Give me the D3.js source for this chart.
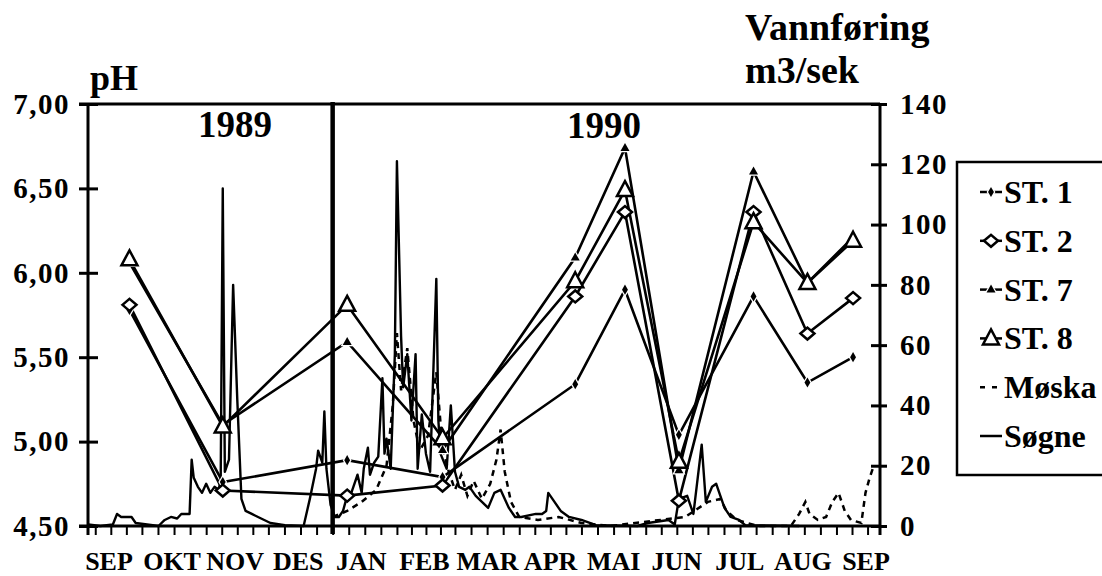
<!DOCTYPE html>
<html>
<head>
<meta charset="utf-8">
<script src="https://cdn.jsdelivr.net/npm/d3@7"></script>
<style>
  body { margin: 0; background: #fff; }
  text { font-family: "Liberation Serif", "Times New Roman", serif; font-weight: bold; fill: #000; }
</style>
</head>
<body>
<div id="chart"></div>
<script>
// pH sampling dates and station values
var sampleDates = ["1989-09-25","1989-11-09","1990-01-08","1990-02-23","1990-04-28",
                   "1990-05-22","1990-06-17","1990-07-23","1990-08-18","1990-09-09"];
var st1 = [5.78, 4.76, 4.89, 4.79, 5.34, 5.90, 5.04, 5.86, 5.35, 5.50];
var st2 = [5.81, 4.71, 4.68, 4.74, 5.86, 6.36, 4.65, 6.36, 5.64, 5.85];
var st7 = [6.06, 5.10, 5.59, 4.95, 6.09, 6.74, 4.83, 6.60, 5.94, 6.21];
var st8 = [6.08, 5.09, 5.81, 5.02, 5.95, 6.49, 4.88, 6.30, 5.94, 6.19];

// Vannføring (m3/sek)
var sogne = [
  ["1989-09-05",0.5],["1989-09-11",0],["1989-09-17",0.5],["1989-09-19",4],["1989-09-21",3],
  ["1989-09-26",3],["1989-09-28",1],["1989-10-09",0],["1989-10-12",2],["1989-10-15",3],
  ["1989-10-18",2.5],["1989-10-20",4],["1989-10-24",4],["1989-10-25",22],["1989-10-26",16],
  ["1989-10-28",13],["1989-10-30",11],["1989-11-01",14],["1989-11-03",11],["1989-11-05",13],
  ["1989-11-07",12],["1989-11-08",15],["1989-11-09",112],["1989-11-10",18],["1989-11-12",22],
  ["1989-11-14",80],["1989-11-16",42],["1989-11-18",9],["1989-11-20",5],["1989-11-23",4],
  ["1989-11-26",3],["1989-11-29",2],["1989-12-02",1],["1989-12-09",0.3],["1989-12-18",0],
  ["1989-12-21",9],["1989-12-24",19],["1989-12-25",25],["1989-12-27",21],["1989-12-28",38],
  ["1989-12-29",19],["1989-12-31",7],["1990-01-02",3],["1990-01-04",3],["1990-01-06",5],
  ["1990-01-08",10],["1990-01-10",11],["1990-01-11",13],["1990-01-13",17],["1990-01-15",11],
  ["1990-01-16",19],["1990-01-18",26],["1990-01-19",17],["1990-01-21",21],["1990-01-23",23],
  ["1990-01-25",49],["1990-01-26",24],["1990-01-27",29],["1990-01-29",19],["1990-01-31",57],
  ["1990-02-01",121],["1990-02-03",63],["1990-02-04",46],["1990-02-06",57],["1990-02-08",35],
  ["1990-02-10",57],["1990-02-11",19],["1990-02-13",37],["1990-02-15",24],["1990-02-17",18],
  ["1990-02-20",82],["1990-02-21",35],["1990-02-22",24],["1990-02-25",19],["1990-02-27",40],
  ["1990-03-01",18],["1990-03-03",13],["1990-03-06",12],["1990-03-08",13],["1990-03-11",10],
  ["1990-03-14",8],["1990-03-17",6],["1990-03-20",11],["1990-03-23",12],["1990-03-27",6],
  ["1990-03-30",3],["1990-04-02",3],["1990-04-09",4],["1990-04-12",4],["1990-04-14",5],
  ["1990-04-15",11],["1990-04-18",8],["1990-04-21",5],["1990-04-25",3],["1990-05-01",2],
  ["1990-05-08",0.3],["1990-05-28",0],["1990-06-02",1],["1990-06-07",1.5],["1990-06-12",2],
  ["1990-06-15",0.5],["1990-06-17",9],["1990-06-21",10],["1990-06-24",4],["1990-06-28",27],
  ["1990-06-30",8],["1990-07-03",13],["1990-07-05",14],["1990-07-07",10],["1990-07-09",6],
  ["1990-07-12",3],["1990-07-16",2],["1990-07-19",0.3],["1990-08-14",0]
];
var moska = [
  ["1990-01-01",3],["1990-01-08",5],["1990-01-15",8],["1990-01-22",12],["1990-01-27",20],
  ["1990-01-30",40],["1990-02-01",64],["1990-02-03",45],["1990-02-06",59],["1990-02-09",35],
  ["1990-02-12",25],["1990-02-16",30],["1990-02-20",51],["1990-02-23",26],["1990-02-26",18],
  ["1990-03-01",12],["1990-03-04",17],["1990-03-07",10],["1990-03-10",15],["1990-03-14",9],
  ["1990-03-18",14],["1990-03-21",22],["1990-03-23",32],["1990-03-25",18],["1990-03-28",8],
  ["1990-04-01",3],["1990-04-10",2],["1990-04-20",3],["1990-05-01",1],["1990-05-15",0],
  ["1990-06-20",3],["1990-07-01",8],["1990-07-07",9],["1990-07-10",5],["1990-07-15",2],
  ["1990-07-25",0],["1990-08-10",0],["1990-08-14",4],["1990-08-17",8],["1990-08-19",4],
  ["1990-08-23",2],["1990-08-27",3],["1990-08-30",8],["1990-09-02",11],["1990-09-05",5],
  ["1990-09-08",2],["1990-09-13",1],["1990-09-15",11],["1990-09-17",16],["1990-09-19",20]
];

var monthLabels = ["SEP","OKT","NOV","DES","JAN","FEB","MAR","APR","MAI","JUN","JUL","AUG","SEP"];
var phTicks = [4.5, 5.0, 5.5, 6.0, 6.5, 7.0];
var flowTicks = [0, 20, 40, 60, 80, 100, 120, 140];
var legendNames = ["ST. 1", "ST. 2", "ST. 7", "ST. 8", "Møska", "Søgne"];

var W = 1102, H = 576;
var plotL = 88, plotR = 880, plotT = 104, plotB = 526;

var parse = d3.timeParse("%Y-%m-%d");
var svg = d3.select("#chart").append("svg")
    .attr("width", W).attr("height", H);

var x = d3.scaleTime()
    .domain([parse("1989-09-05"), parse("1990-09-22")])
    .range([plotL, plotR]);
var yPh = d3.scaleLinear().domain([4.5, 7.0]).range([plotB, plotT]);
var yFlow = d3.scaleLinear().domain([0, 140]).range([plotB, plotT]);

var no = d3.formatLocale({decimal: ",", thousands: ".", grouping: [3], currency: ["", ""]});
var fmt = no.format(".2f");

// Left axis (pH)
var gl = svg.append("g")
    .attr("transform", "translate(" + plotL + ",0)")
    .call(d3.axisLeft(yPh).tickValues(phTicks).tickFormat(fmt).tickSize(9).tickPadding(9));
gl.select(".domain").remove();
gl.selectAll(".tick line").attr("x2", 10).attr("x1", -9).attr("stroke", "#000").attr("stroke-width", 3);
gl.selectAll(".tick text")
    .style("font-size", "29px").style("letter-spacing", "1.5px")
    .attr("dy", "0.32em");

// Right axis (flow)
var gr = svg.append("g")
    .attr("transform", "translate(" + plotR + ",0)")
    .call(d3.axisRight(yFlow).tickValues(flowTicks).tickSize(7).tickPadding(13));
gr.select(".domain").remove();
gr.selectAll(".tick line").attr("x1", -9).attr("x2", 7).attr("stroke", "#000").attr("stroke-width", 3);
gr.selectAll(".tick text")
    .style("font-size", "29px").style("letter-spacing", "1.5px")
    .attr("dy", "0.32em");

// Bottom axis: four ticks per month
var months = d3.timeMonth.range(parse("1989-09-01"), parse("1990-10-01"));
var tickDates = [];
months.forEach(function(m) {
  var next = d3.timeMonth.offset(m, 1);
  for (var k = 0; k < 4; k++) tickDates.push(new Date(+m + (next - m) * k / 4));
});
tickDates = tickDates.filter(function(d) { return d >= x.domain()[0] && d <= x.domain()[1]; });

var gb = svg.append("g")
    .attr("transform", "translate(0," + plotB + ")")
    .call(d3.axisBottom(x).tickValues(tickDates).tickSize(9).tickFormat(""));
gb.select(".domain").remove();
gb.selectAll(".tick line").attr("stroke", "#000").attr("stroke-width", 2);

// month labels, evenly spread under the axis
var xm = d3.scalePoint()
    .domain(d3.range(monthLabels.length))
    .range([109, 866]);
svg.selectAll(".mlab")
  .data(monthLabels)
  .enter().append("text")
    .attr("class", "mlab")
    .attr("x", function(d, i) { return xm(i); })
    .attr("y", 570)
    .attr("text-anchor", "middle")
    .style("font-size", "26px")
    .text(function(d) { return d; });

// frame lines
svg.append("line").attr("x1", plotL - 9).attr("x2", plotR).attr("y1", plotT).attr("y2", plotT)
    .attr("stroke", "#000").attr("stroke-width", 3);
svg.append("line").attr("x1", plotL - 9).attr("x2", plotR).attr("y1", plotB).attr("y2", plotB)
    .attr("stroke", "#000").attr("stroke-width", 3);
svg.append("line").attr("x1", plotL).attr("x2", plotL).attr("y1", plotT).attr("y2", plotB + 9)
    .attr("stroke", "#000").attr("stroke-width", 3);
svg.append("line").attr("x1", plotR).attr("x2", plotR).attr("y1", plotT).attr("y2", plotB + 9)
    .attr("stroke", "#000").attr("stroke-width", 3);

// year divider
var xYear = x(parse("1990-01-01"));
svg.append("line").attr("x1", xYear).attr("x2", xYear).attr("y1", plotT - 2).attr("y2", plotB + 8)
    .attr("stroke", "#000").attr("stroke-width", 4.5);

// titles
svg.append("text").attr("x", 90).attr("y", 90).style("font-size", "36px").text("pH");
svg.append("text").attr("x", 745).attr("y", 40).style("font-size", "38px").text("Vannføring");
svg.append("text").attr("x", 745).attr("y", 83).style("font-size", "38px").text("m3/sek");
svg.append("text").attr("x", 235).attr("y", 137).attr("text-anchor", "middle").style("font-size", "37px").text("1989");
svg.append("text").attr("x", 604).attr("y", 138).attr("text-anchor", "middle").style("font-size", "37px").text("1990");

// flow lines
var flowLine = d3.line()
    .x(function(d) { return x(parse(d[0])); })
    .y(function(d) { return yFlow(d[1]); });

svg.append("path").datum(moska)
    .attr("d", flowLine)
    .attr("fill", "none").attr("stroke", "#000").attr("stroke-width", 2.5)
    .attr("stroke-dasharray", "6,5");
svg.append("path").datum(sogne)
    .attr("d", flowLine)
    .attr("fill", "none").attr("stroke", "#000").attr("stroke-width", 2.4)
    .attr("stroke-linejoin", "round");

// station lines and markers
var stations = [
  {name: "ST. 1", values: st1, marker: "dot"},
  {name: "ST. 2", values: st2, marker: "diamond"},
  {name: "ST. 7", values: st7, marker: "tri"},
  {name: "ST. 8", values: st8, marker: "opentri"}
];

var phLine = d3.line()
    .x(function(d) { return x(parse(d.date)); })
    .y(function(d) { return yPh(d.v); });

function drawMarker(g, type, cx, cy) {
  if (type === "dot") {
    g.append("path").attr("d", d3.symbol().type(d3.symbolDiamond).size(30)())
      .attr("transform", "translate(" + cx + "," + cy + ")")
      .attr("fill", "#000").attr("stroke", "#fff").attr("stroke-width", 2.5).attr("paint-order", "stroke");
  } else if (type === "diamond") {
    g.append("path").attr("d", "M-7,0L0,-6L7,0L0,6Z")
      .attr("transform", "translate(" + cx + "," + cy + ")")
      .attr("fill", "#fff").attr("stroke", "#000").attr("stroke-width", 2.5);
  } else if (type === "tri") {
    g.append("path").attr("d", "M0,-5L4.5,3L-4.5,3Z")
      .attr("transform", "translate(" + cx + "," + cy + ")")
      .attr("fill", "#000").attr("stroke", "#fff").attr("stroke-width", 2.5).attr("paint-order", "stroke");
  } else {
    g.append("path").attr("d", "M0,-9L8,6L-8,6Z")
      .attr("transform", "translate(" + cx + "," + cy + ")")
      .attr("fill", "#fff").attr("stroke", "#000").attr("stroke-width", 2.5);
  }
}

stations.forEach(function(s) {
  var pts = sampleDates.map(function(d, i) { return {date: d, v: s.values[i]}; });
  svg.append("path").datum(pts)
    .attr("d", phLine)
    .attr("fill", "none").attr("stroke", "#000").attr("stroke-width", 2.6);
});
stations.forEach(function(s) {
  var g = svg.append("g");
  sampleDates.forEach(function(d, i) {
    drawMarker(g, s.marker, x(parse(d)), yPh(s.values[i]));
  });
});

// legend
var lg = svg.append("g");
lg.append("rect").attr("x", 957).attr("y", 162).attr("width", 150).attr("height", 313)
  .attr("fill", "none").attr("stroke", "#000").attr("stroke-width", 2.5);
var legendMarkers = ["dot", "diamond", "tri", "opentri", "dash", "solid"];
legendNames.forEach(function(name, i) {
  var by = 203 + i * 48.8;
  var my = by - 11;
  if (legendMarkers[i] === "dash") {
    lg.append("line").attr("x1", 980).attr("x2", 1002).attr("y1", my).attr("y2", my)
      .attr("stroke", "#000").attr("stroke-width", 2.5).attr("stroke-dasharray", "5,7");
  } else {
    lg.append("line").attr("x1", 980).attr("x2", 1002).attr("y1", my).attr("y2", my)
      .attr("stroke", "#000").attr("stroke-width", 2.5);
  }
  if (i < 4) drawMarker(lg, legendMarkers[i], 991, my);
  lg.append("text").attr("x", 1004).attr("y", by).style("font-size", "32px").text(name);
});
</script>
</body>
</html>
